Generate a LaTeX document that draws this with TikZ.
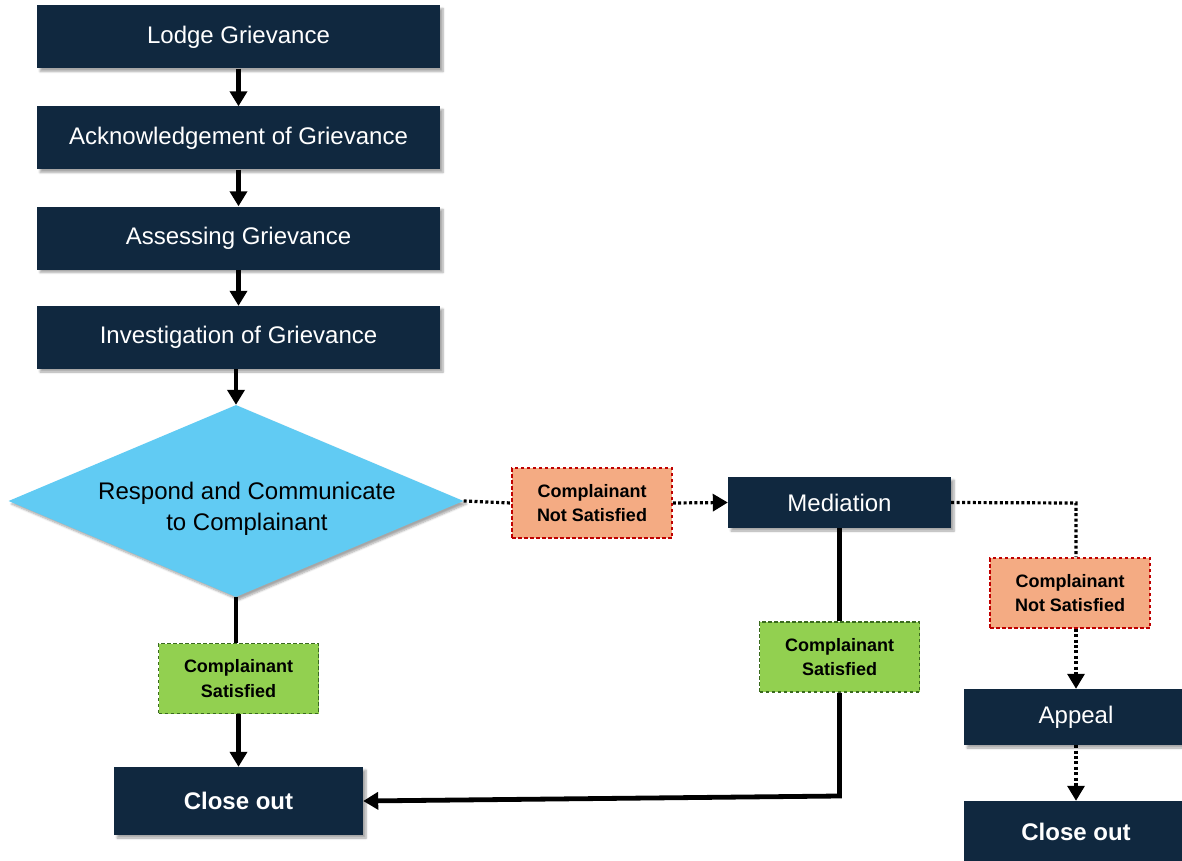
\documentclass[tikz,border=0pt]{standalone}
\usepackage{fontspec}
\setmainfont{Liberation Sans}
\usetikzlibrary{shapes.geometric,arrows.meta,shadows.blur}
\definecolor{navy}{HTML}{10283F}
\definecolor{skyb}{HTML}{61CBF3}
\definecolor{lgreen}{HTML}{92D050}
\definecolor{dgreen}{HTML}{3A6B1E}
\definecolor{salmon}{HTML}{F4AB83}
\definecolor{dred}{HTML}{C00000}
\begin{document}
\begin{tikzpicture}[x=1pt,y=-1pt,
  shade/.style={blur shadow={shadow xshift=3pt,shadow yshift=-3pt,shadow blur steps=6,shadow opacity=35}},
  stepbox/.style={shade,fill=navy,text=white,inner sep=0pt,minimum width=403pt,minimum height=63pt,font=\fontsize{24}{28}\selectfont},
  decide/.style={shade,shape=diamond,fill=skyb,aspect=2.37,inner sep=0pt,minimum width=455pt,minimum height=192pt},
  lbl/.style={dash pattern=on 3.5pt off 2.5pt,line width=1.6pt,minimum width=160pt,minimum height=70pt,inner sep=0pt,align=center,font=\bfseries\fontsize{18}{24.5}\selectfont},
  nsat/.style={lbl,fill=salmon,draw=dred},
  sat/.style={lbl,fill=lgreen,draw=dgreen},
  solidln/.style={line width=4.8pt},
  solidarr/.style={line width=4.8pt,-{Triangle[length=15pt,width=17pt]}},
  dotln/.style={line width=3.2pt,dash pattern=on 3pt off 2.4pt},
  dotarr/.style={dotln,-{Triangle[length=15pt,width=17pt]}}
]
\useasboundingbox (0,0) rectangle (1182,861);
\node[stepbox] (lodge) at (238.5,37) {Lodge Grievance};
\node[stepbox] (ack) at (238.5,138) {Acknowledgement of Grievance};
\node[stepbox] (assess) at (238.5,238) {Assessing Grievance};
\node[stepbox] (invest) at (238.5,337.5) {Investigation of Grievance};
\node[decide,label={[align=center,font=\fontsize{24}{31}\selectfont,xshift=11pt,yshift=-8pt]center:Respond and Communicate\\to Complainant}] (resp) at (236,501) {};
\node[sat] (sat1) at (238.5,678.5) {Complainant\\Satisfied};
\node[stepbox,minimum width=249pt,minimum height=68pt,font=\bfseries\fontsize{24}{28}\selectfont] (close1) at (238.5,801) {Close out};
\node[nsat] (ns1) at (592,503) {Complainant\\Not Satisfied};
\node[stepbox,minimum width=223pt,minimum height=51pt] (med) at (839.5,502.5) {Mediation};
\node[sat] (sat2) at (839.5,657) {Complainant\\Satisfied};
\node[nsat] (ns2) at (1070,593) {Complainant\\Not Satisfied};
\node[stepbox,minimum width=224pt,minimum height=56pt] (appeal) at (1076,717) {Appeal};
\node[stepbox,minimum width=224pt,minimum height=62pt,font=\bfseries\fontsize{24}{28}\selectfont] (close2) at (1076,832) {Close out};
\coordinate (rx) at (1076,503);
\coordinate (bend) at (839.5,796);
\draw[solidarr] (lodge) -- (ack);
\draw[solidarr] (ack) -- (assess);
\draw[solidarr] (assess) -- (invest);
\draw[solidarr] (invest.south -| resp.north) -- (resp.north);
\draw[solidln] (resp.south) -- (sat1.north -| resp.south);
\draw[solidarr] (sat1) -- (close1);
\draw[dotln] (resp.east) -- (ns1.west);
\draw[dotarr] (ns1.east) -- (med.west);
\draw[solidln] (med) -- (sat2);
\draw[solidarr] (sat2.south) -- (bend) -- (close1.east);
\draw[dotln] (med.east) -- (rx) -- (ns2.north -| rx);
\draw[dotarr] (ns2.south -| rx) -- (appeal.north -| rx);
\draw[dotarr] (appeal.south -| rx) -- (close2.north -| rx);
\end{tikzpicture}
\end{document}
